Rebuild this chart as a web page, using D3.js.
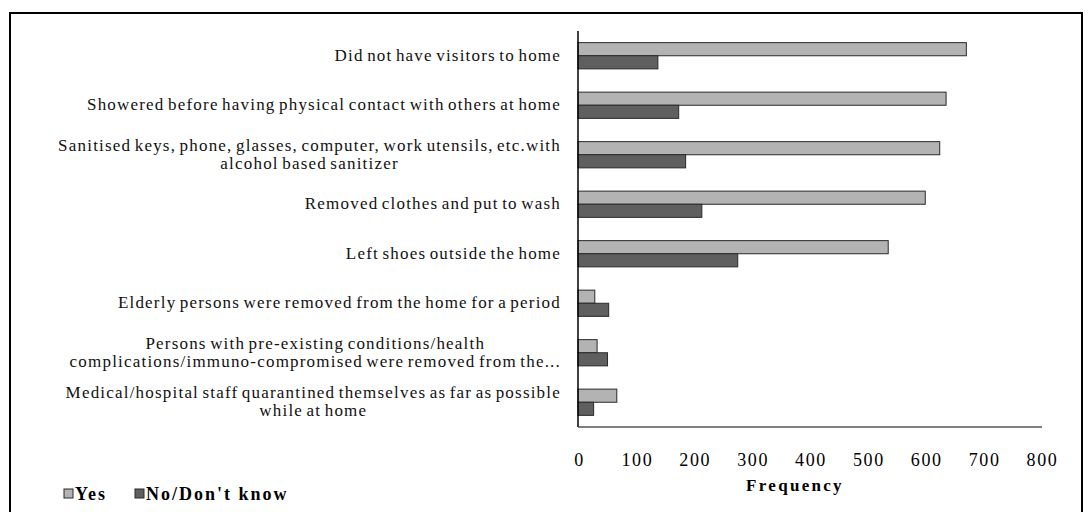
<!DOCTYPE html>
<html>
<head>
<meta charset="utf-8">
<script src="https://cdn.jsdelivr.net/npm/d3@7"></script>
<style>
	body { margin: 0; background: #fff; }
	text { font-family: "Liberation Serif", "Times New Roman", serif; }
</style>
</head>
<body>
<div id="chart"></div>
<script>
var categories = [
	["Did not have visitors to home"],
	["Showered before having physical contact with others at home"],
	["Sanitised keys, phone, glasses, computer, work utensils, etc.with", "alcohol based sanitizer"],
	["Removed clothes and put to wash"],
	["Left shoes outside the home"],
	["Elderly persons were removed from the home for a period"],
	["Persons with pre-existing conditions/health", "complications/immuno-compromised were removed from the..."],
	["Medical/hospital staff quarantined themselves as far as possible", "while at home"]
];
var yesValues = [671, 636, 625, 600, 536, 29, 33, 67];
var noValues = [138, 174, 186, 214, 276, 53, 51, 27];
var seriesNames = ["Yes", "No/Don't know"];
var seriesColors = ["#b3b3b3", "#5f5f5f"];
var xTicks = [0, 100, 200, 300, 400, 500, 600, 700, 800];

var conf = { width: 1091, height: 512, left: 578, right: 1041, top: 31, bottom: 427 };

var $svg = d3.select("#chart").append("svg")
	.attr("width", conf.width)
	.attr("height", conf.height);

// outer frame (open at the bottom)
$svg.append("path")
	.attr("d", "M10,512 L10,13 L1082,13 L1082,512")
	.attr("fill", "none")
	.attr("stroke", "#000")
	.attr("stroke-width", 2);

var x = d3.scaleLinear().domain([0, 800]).range([conf.left, conf.right]);
var y = d3.scaleBand().domain(d3.range(categories.length)).range([conf.top, conf.bottom]).paddingInner(0.47).paddingOuter(0.235);
var sub = d3.scaleBand().domain([0, 1]).range([0, y.bandwidth()]);

var data = categories.map(function(c, i) {
	return { idx: i, values: [yesValues[i], noValues[i]] };
});

var groups = $svg.selectAll("g.row").data(data).enter()
	.append("g")
	.attr("class", "row")
	.attr("transform", function(d) { return "translate(0," + y(d.idx) + ")"; });

groups.selectAll("rect").data(function(d) { return d.values; }).enter()
	.append("rect")
	.attr("x", x(0))
	.attr("y", function(d, i) { return sub(i); })
	.attr("width", function(d) { return x(d) - x(0); })
	.attr("height", sub.bandwidth())
	.attr("fill", function(d, i) { return seriesColors[i]; })
	.attr("stroke", "#2a2a2a")
	.attr("stroke-width", 1);

// axes lines
$svg.append("line")
	.attr("x1", conf.left).attr("y1", conf.top)
	.attr("x2", conf.left).attr("y2", conf.bottom)
	.attr("stroke", "#000").attr("stroke-width", 1.5);
$svg.append("line")
	.attr("x1", conf.left).attr("y1", conf.bottom)
	.attr("x2", conf.right + 1).attr("y2", conf.bottom)
	.attr("stroke", "#555").attr("stroke-width", 1.5);

// x tick labels
var xAxis = d3.axisBottom(x).tickValues(xTicks).tickSize(0).tickPadding(0);
var $xa = $svg.append("g")
	.attr("transform", "translate(0,466)")
	.call(xAxis);
$xa.select(".domain").remove();
$xa.selectAll("text")
	.attr("dy", 0)
	.attr("dx", 1)
	.style("font-family", "'Liberation Serif', serif")
	.style("font-size", "18px")
	.style("letter-spacing", "1.6px")
	.attr("fill", "#000");

$svg.append("text")
	.attr("x", 795)
	.attr("y", 491)
	.attr("text-anchor", "middle")
	.style("font-size", "17px")
	.style("font-weight", "bold")
	.style("letter-spacing", "2.3px")
	.text("Frequency");

// category labels
var labelRight = 560, lineH = 18;
groups.each(function(d) {
	var lines = categories[d.idx];
	var g = d3.select(this);
	var cy = y.bandwidth() / 2;
	var t = g.append("text")
		.style("font-size", "17px")
		.style("letter-spacing", "1.2px")
		.style("word-spacing", "-2px")
		.attr("fill", "#111");
	lines.forEach(function(l, k) {
		t.append("tspan")
			.attr("y", cy + (k - (lines.length - 1) / 2) * lineH + 5)
			.text(l);
	});
	var maxW = 0;
	t.selectAll("tspan").each(function() { maxW = Math.max(maxW, this.getComputedTextLength()); });
	t.attr("text-anchor", "middle");
	t.selectAll("tspan").attr("x", labelRight - maxW / 2 + 1);
});

// legend
var legend = $svg.append("g").attr("transform", "translate(64,500)");
var items = legend.selectAll("g").data(seriesNames).enter()
	.append("g")
	.attr("transform", function(d, i) { return "translate(" + (i * 71) + ",0)"; });
items.append("rect")
	.attr("x", 0).attr("y", -11)
	.attr("width", 9).attr("height", 9)
	.attr("fill", function(d, i) { return seriesColors[i]; })
	.attr("stroke", "#2a2a2a").attr("stroke-width", 1);
items.append("text")
	.attr("x", 11).attr("y", 0)
	.style("font-size", "18px")
	.style("font-weight", "bold")
	.style("letter-spacing", "2px")
	.text(function(d) { return d; });
</script>
</body>
</html>
